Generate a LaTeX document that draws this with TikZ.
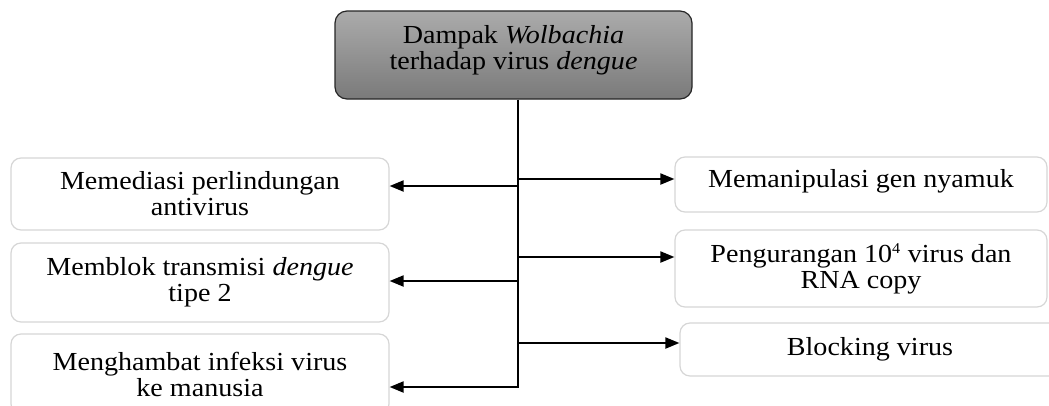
\documentclass[tikz,border=0pt]{standalone}
\usepackage{fontspec}
\setmainfont{Liberation Serif}[FakeStretch=1.08]
\usetikzlibrary{arrows.meta}

\definecolor{titletop}{HTML}{ABABAB}
\definecolor{titlebottom}{HTML}{7A7A7A}
\definecolor{boxline}{HTML}{D6D6D6}

\begin{document}
\begin{tikzpicture}[
  x=1pt,y=-1pt,
  every node/.style={font=\fontsize{26}{26}\selectfont},
  title node/.style={
    draw=black!85,
    line width=1.2pt,
    rounded corners=12pt,
    top color=titletop,
    bottom color=titlebottom,
    align=center,
    inner sep=0pt,
  },
  effect node/.style={
    draw=boxline,
    line width=1.2pt,
    rounded corners=10pt,
    align=center,
    inner sep=0pt,
  },
  link/.style={line width=2pt,-{Triangle[length=14pt,width=11pt]}},
  ]
  \useasboundingbox (0,0) rectangle (1049,405);
  \node[title node,minimum width=357pt,minimum height=88pt,text depth=15pt] (dampak) at (513.5,55)
    {Dampak \textit{Wolbachia}\\terhadap virus \textit{dengue}};
  % left column
  \node[effect node,minimum width=378pt,minimum height=72pt] (mediasi) at (200,194)
    {Memediasi perlindungan\\antivirus};
  \node[effect node,minimum width=378pt,minimum height=79pt] (blok) at (200,282.5)
    {Memblok transmisi \textit{dengue}\\tipe 2};
  \node[effect node,minimum width=378pt,minimum height=80pt] (hambat) at (200,374)
    {Menghambat infeksi virus\\ke manusia};
  % right column
  \node[effect node,minimum width=372pt,minimum height=55pt,text depth=12pt] (manipulasi) at (861,184.5)
    {Memanipulasi gen nyamuk};
  \node[effect node,minimum width=372pt,minimum height=77pt] (kurang) at (861,268.5)
    {Pengurangan 10\textsuperscript{\fontsize{15}{15}\selectfont 4} virus dan\\RNA copy};
  \node[effect node,minimum width=380pt,minimum height=53pt] (blocking) at (870,349.5)
    {Blocking virus};
  % branch points on the trunk
  \coordinate (s-mediasi)    at (518,186);
  \coordinate (s-blok)       at (518,281);
  \coordinate (s-hambat)     at (518,387);
  \coordinate (s-manipulasi) at (518,179);
  \coordinate (s-kurang)     at (518,257);
  \coordinate (s-blocking)   at (518,343);
  \draw[link] ([xshift=4.5pt]dampak.south) |- (s-hambat -| hambat.east);
  \draw[link] (s-mediasi) -- (s-mediasi -| mediasi.east);
  \draw[link] (s-blok) -- (s-blok -| blok.east);
  \draw[link] (s-manipulasi) -- (s-manipulasi -| manipulasi.west);
  \draw[link] (s-kurang) -- (s-kurang -| kurang.west);
  \draw[link] (s-blocking) -- (s-blocking -| blocking.west);
\end{tikzpicture}
\end{document}
